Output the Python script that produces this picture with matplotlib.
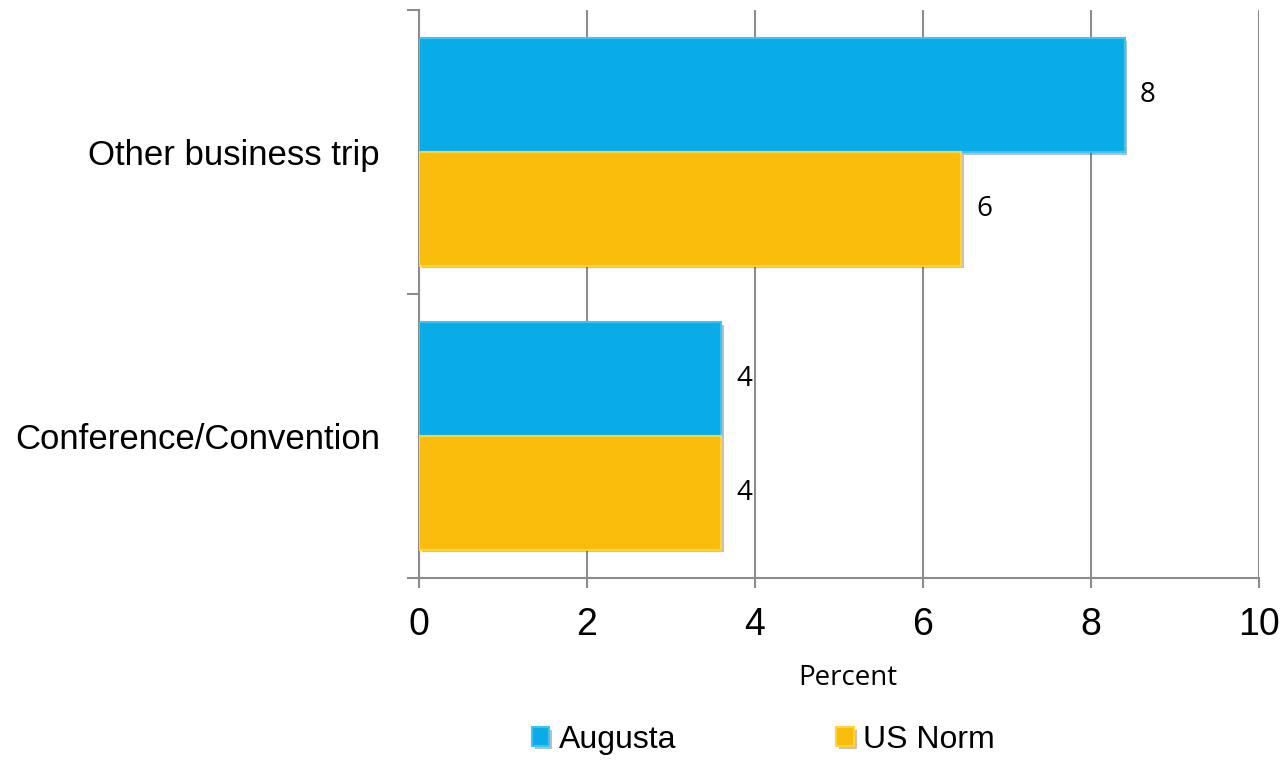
import numpy as np
import matplotlib
matplotlib.use('Agg')
import matplotlib.pyplot as plt
import matplotlib.patheffects as pe

plt.rcParams['font.family'] = ['Liberation Sans', 'DejaVu Sans']

# data (bottom category first)
categories = ['Conference/Convention', 'Other business trip']
augusta = [3.6, 8.4]
us_norm = [3.6, 6.45]
augusta_labels = ['4', '8']
us_norm_labels = ['4', '6']

fig = plt.figure(figsize=(12.84, 7.61), dpi=100)
ax = fig.add_axes([0.3263, 0.2405, 0.6542, 0.7464])

y = np.arange(len(categories))
h = 0.4
shadow = [pe.SimplePatchShadow(offset=(2, -2), alpha=0.3), pe.Normal()]

b1 = ax.barh(y + h / 2, augusta, height=h, color='#0AACE8', edgecolor='#3CC4F2',
             linewidth=1.5, label='Augusta', path_effects=shadow, zorder=3)
b2 = ax.barh(y - h / 2, us_norm, height=h, color='#F9BC0B', edgecolor='#FFD43A',
             linewidth=1.5, label='US Norm', path_effects=shadow, zorder=3)

ax.bar_label(b1, labels=augusta_labels, padding=11, fontsize=20, family='Open Sans')
ax.bar_label(b2, labels=us_norm_labels, padding=11, fontsize=20, family='Open Sans')

ax.set_xlim(0, 10)
ax.set_ylim(-0.5, 1.5)
ax.set_xticks(range(0, 11, 2))
ax.grid(axis='x', color='#8C8C8C', linewidth=1.5)
ax.set_axisbelow(True)

for s in ['top', 'right']:
    ax.spines[s].set_visible(False)
for s in ['left', 'bottom']:
    ax.spines[s].set_color('#8C8C8C')
    ax.spines[s].set_linewidth(1.5)

ax.tick_params(axis='x', length=7, width=1.5, color='#8C8C8C', pad=14, labelsize=27)
ax.set_yticks(y, categories)
ax.tick_params(axis='y', which='major', length=0, pad=28, labelsize=25)
ax.set_yticks([-0.5, 0.5, 1.5], minor=True)
ax.tick_params(axis='y', which='minor', length=9, width=1.5, color='#8C8C8C')

ax.set_xlabel('Percent', fontsize=20, family='Open Sans')
ax.xaxis.set_label_coords(0.51, -0.152)

fig.legend(handles=[b1, b2], loc='center', bbox_to_anchor=(0.5946, 0.0276), ncol=2,
           frameon=False, fontsize=23, handlelength=0.55, handleheight=0.55,
           handletextpad=0.3, columnspacing=5.0)

fig.savefig('out.png', dpi=100)
